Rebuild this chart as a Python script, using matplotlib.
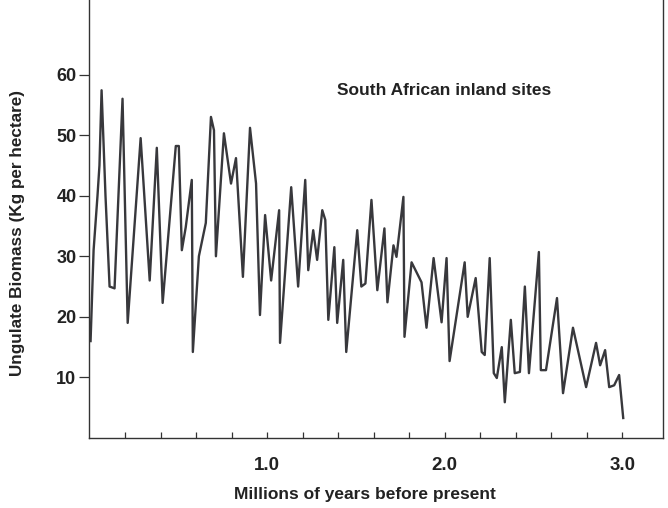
import matplotlib
matplotlib.use("Agg")
import matplotlib.pyplot as plt

plt.rcParams['font.family'] = ['Liberation Sans', 'DejaVu Sans']

years = [0.006, 0.023, 0.045, 0.056, 0.068, 0.090, 0.113, 0.141, 0.186, 0.215,
         0.288, 0.339, 0.379, 0.412, 0.486, 0.503, 0.520, 0.542, 0.576, 0.582,
         0.616, 0.655, 0.684, 0.701, 0.712, 0.757, 0.797, 0.825, 0.864, 0.904,
         0.938, 0.960, 0.989, 1.023, 1.068, 1.073, 1.136, 1.175, 1.215, 1.232,
         1.260, 1.282, 1.311, 1.328, 1.345, 1.379, 1.395, 1.429, 1.446, 1.508,
         1.531, 1.554, 1.588, 1.621, 1.661, 1.678, 1.712, 1.729, 1.768, 1.774,
         1.814, 1.870, 1.898, 1.938, 1.983, 2.011, 2.028, 2.113, 2.130, 2.175,
         2.209, 2.226, 2.254, 2.277, 2.294, 2.322, 2.339, 2.373, 2.395, 2.424,
         2.452, 2.475, 2.531, 2.542, 2.571, 2.633, 2.667, 2.723, 2.797, 2.853,
         2.876, 2.904, 2.927, 2.955, 2.983, 3.006]
biomass = [16, 31, 40, 45, 57.4, 40, 25, 24.7, 56, 19,
           49.5, 26, 47.9, 22.3, 48.2, 48.2, 31, 34.8, 42.6, 14.2,
           30, 35.5, 53, 50.8, 30, 50.3, 42, 46.2, 26.6, 51.2,
           42, 20.3, 36.8, 26, 37.6, 15.7, 41.4, 25, 42.6, 27.7,
           34.3, 29.4, 37.6, 36, 19.5, 31.5, 19, 29.4, 14.2, 34.3,
           25, 25.5, 39.3, 24.4, 34.6, 22.4, 31.8, 29.9, 39.8, 16.7,
           29, 25.7, 18.2, 29.7, 19.1, 29.7, 12.7, 29, 20, 26.4,
           14.2, 13.7, 29.7, 10.7, 9.9, 15, 5.9, 19.5, 10.7, 10.9,
           25, 10.7, 30.7, 11.2, 11.2, 23.1, 7.4, 18.2, 8.4, 15.7,
           12, 14.5, 8.4, 8.7, 10.4, 3.3]

x_ticks = [1.0, 2.0, 3.0]
x_ticklabels = ["1.0", "2.0", "3.0"]
x_minor = [0.2, 0.4, 0.6, 0.8, 1.2, 1.4, 1.6, 1.8, 2.2, 2.4, 2.6, 2.8]
y_ticks = [10, 20, 30, 40, 50, 60]

fig = plt.figure(figsize=(6.68, 5.08), dpi=100)
ax = fig.add_axes([0.1332, 0.1378, 0.9925 - 0.1332, 1 - 0.1378])

ax.plot(years, biomass, color='#38383c', linewidth=1.7, solid_joinstyle='round')

ax.set_xlim(-0.003, 3.23)
ax.set_ylim(0, 72.3)

ax.spines['top'].set_visible(False)
for s in ['left', 'bottom', 'right']:
    ax.spines[s].set_linewidth(1.0)
    ax.spines[s].set_color('#333333')

ax.set_xticks(x_ticks)
ax.set_xticks(x_minor, minor=True)
ax.set_xticklabels(x_ticklabels, fontsize=13.5, fontweight='bold')
ax.tick_params(axis='x', which='both', direction='in', length=4, width=0.9, pad=14,
               colors='#333333', labelcolor='#222222')
ax.set_yticks(y_ticks)
ax.set_yticklabels([str(v) for v in y_ticks], fontsize=13, fontweight='bold')
ax.tick_params(axis='y', direction='out', length=7, width=0.9, pad=2,
               colors='#333333', labelcolor='#222222')
ax.tick_params(right=False)

ax.set_xlabel("Millions of years before present", fontsize=12.5, fontweight='bold',
              color='#222222', va='center')
ax.xaxis.set_label_coords(0.481, -0.13)
ax.set_ylabel("Ungulate Biomass (Kg per hectare)", fontsize=12.3, fontweight='bold',
              color='#222222', va='center')
ax.yaxis.set_label_coords(-0.124, 0.468)

ax.text(2.0, 57.3, "South African inland sites", fontsize=12.5, fontweight='bold',
        ha='center', va='center', color='#222222')

fig.savefig("out.png", dpi=100)
